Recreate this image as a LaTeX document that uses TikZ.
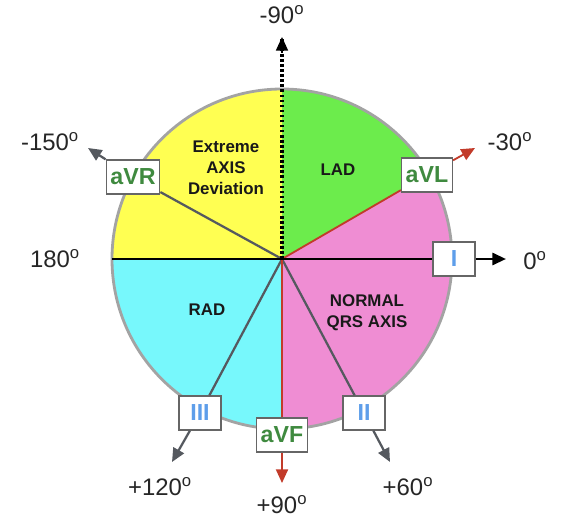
\documentclass[tikz,border=0pt]{standalone}
\usepackage{fontspec}
\setmainfont{Liberation Sans}
\usepackage{xcolor}
\usepackage{tikz}
\usetikzlibrary{arrows.meta,positioning,calc}
\definecolor{secyel}{HTML}{FFFF52}
\definecolor{secgrn}{HTML}{6CEC4C}
\definecolor{secpnk}{HTML}{EF8DD3}
\definecolor{seccyn}{HTML}{77F8FC}
\definecolor{rimgray}{HTML}{A3A3A3}
\definecolor{leadgray}{HTML}{55595F}
\definecolor{leadred}{HTML}{C23B2A}
\definecolor{auggreen}{HTML}{3F8A3F}
\definecolor{limbblue}{HTML}{5E9EEA}
\tikzset{
  vlead/.style={draw=gray!80!black,fill=white,line width=0.9pt,minimum width=1.05cm,minimum height=0.85cm,inner xsep=3pt,font=\fontsize{16.5}{19}\selectfont\bfseries},
  vaug/.style={vlead,text=auggreen},
  vlimb/.style={vlead,text=limbblue},
  vsec/.style={align=center,font=\fontsize{12}{15}\selectfont\bfseries,text=black!90},
  vdeg/.style={font=\fontsize{17}{20}\selectfont,text=black!85},
  varr/.style={-{Triangle[length=3.4mm,width=3mm]},line width=1.6pt},
  vline/.style={line width=1.6pt}
}
\newcommand{\dg}{\textsuperscript{o}}

\begin{document}
\begin{tikzpicture}
  \useasboundingbox (-7.05,-6.8) rectangle (7.65,6.475);
  \coordinate (o) at (0,0);
  % sectors
  \fill[secgrn] (o) -- (30:4.25) arc (30:90:4.25) -- cycle;
  \fill[secyel] (o) -- (90:4.25) arc (90:180:4.25) -- cycle;
  \fill[seccyn] (o) -- (180:4.25) arc (180:270:4.25) -- cycle;
  \fill[secpnk] (o) -- (-90:4.25) arc (-90:30:4.25) -- cycle;
  \draw[rimgray,line width=2pt] (o) circle (4.25);
  \coordinate (w) at (180:4.25);
  % texts in the sectors
  \node[vsec] (ext) at (-1.4,2.275) {Extreme\\AXIS\\Deviation};
  \node[vsec] (lad) at (1.4,2.225) {LAD};
  \node[vsec] (rad) at (-1.875,-1.275) {RAD};
  \node[vsec] (nrm) at (2.125,-1.35) {NORMAL\\QRS AXIS};
  % arrow ends
  \coordinate (tR) at (-4.85,2.775); \coordinate (tL) at (4.825,2.775);
  \coordinate (tI) at (5.6,0); \coordinate (tII) at (2.7,-5.075);
  \coordinate (tIII) at (-2.75,-5.075); \coordinate (tF) at (0,-5.6);
  \coordinate (tup) at (0,5.55);
  % leads
  \node[vaug] (avr) at (-3.725,2.05) {aVR};
  \node[vaug] (avl) at (3.625,2.1) {aVL};
  \node[vlimb] (li) at (4.3,0) {I};
  \node[vlimb] (lii) at (2.05,-3.85) {II};
  \node[vlimb] (liii) at (-2.05,-3.85) {III};
  \node[vaug] (avf) at (0,-4.4) {aVF};
  \draw[leadgray,vline] (o) -- (avr); \draw[leadred,line width=1.3pt] (o) -- (avl);
  \draw[leadgray,vline] (o) -- (lii); \draw[leadgray,vline] (o) -- (liii);
  \draw[leadred,line width=1.3pt] (o) -- (avf);
  \draw[black,line width=1.9pt] (w) -- (li);
  \draw[black,line width=2.2pt,dash pattern=on 1.8pt off 1.8pt] (o) -- (tup);
  \draw[black,line width=1.2pt,-{Triangle[length=3.4mm,width=3mm]}] ($(tup)+(0,-0.4)$) -- (tup);
  \draw[varr,leadgray] (avr) -- (tR); \draw[varr,leadred,line width=1.3pt] (avl) -- (tL);
  \draw[varr,black,line width=1.9pt] (li) -- (tI); \draw[varr,leadgray] (lii) -- (tII);
  \draw[varr,leadgray] (liii) -- (tIII); \draw[varr,leadred,line width=1.3pt] (avf) -- (tF);
  % degrees
  \node[vdeg] (d90m) at (0,6.1) {-90\dg};
  \node[vdeg] (d30m) at (5.7,2.925) {-30\dg};
  \node[vdeg] (d0) at (6.325,-0.05) {0\dg};
  \node[vdeg] (d60) at (3.15,-5.7) {+60\dg};
  \node[vdeg] (d90) at (0,-6.15) {+90\dg};
  \node[vdeg] (d120) at (-3.05,-5.7) {+120\dg};
  \node[vdeg] (d180) at (-5.675,0) {180\dg};
  \node[vdeg] (d150m) at (-5.8,2.925) {-150\dg};
\end{tikzpicture}
\end{document}
